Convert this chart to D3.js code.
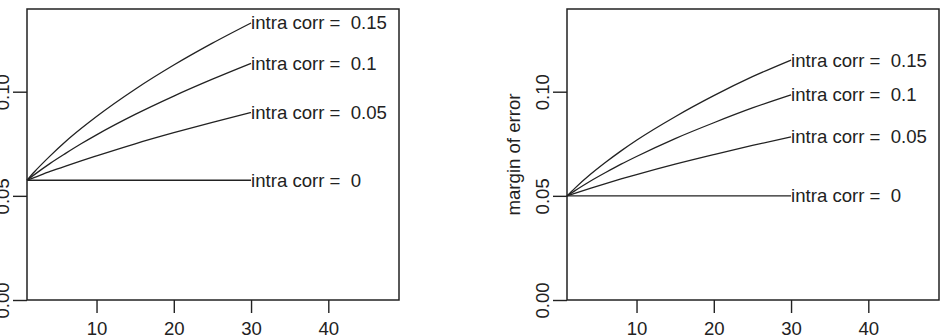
<!DOCTYPE html>
<html>
<head>
<meta charset="utf-8">
<script src="https://cdn.jsdelivr.net/npm/d3@7"></script>
<style>
  html, body { margin: 0; padding: 0; background: #fff; }
  svg { display: block; }
  text { font-family: "Liberation Sans", Arial, sans-serif; fill: #222; }
</style>
</head>
<body>
<svg id="chart" width="952" height="336"></svg>
<script>
// ---- data ----
const clusterSizes = [1, 2, 4, 6, 8, 10, 15, 20, 25, 30];
const intraCorrs = ["0.15", "0.1", "0.05", "0"];

// left panel: margin of error by cluster size
const leftCorr015 = [0.0575, 0.0617, 0.0692, 0.0761, 0.0823, 0.0881, 0.1012, 0.1128, 0.1233, 0.1330];
const leftCorr010 = [0.0575, 0.0603, 0.0656, 0.0704, 0.0750, 0.0793, 0.0891, 0.0979, 0.1060, 0.1136];
const leftCorr005 = [0.0575, 0.0589, 0.0617, 0.0643, 0.0668, 0.0692, 0.0750, 0.0803, 0.0853, 0.0900];
const leftCorr000 = [0.0575, 0.0575, 0.0575, 0.0575, 0.0575, 0.0575, 0.0575, 0.0575, 0.0575, 0.0575];

// right panel: margin of error by cluster size
const rightCorr015 = [0.0500, 0.0536, 0.0602, 0.0661, 0.0716, 0.0767, 0.0880, 0.0981, 0.1072, 0.1152];
const rightCorr010 = [0.0500, 0.0524, 0.0570, 0.0612, 0.0652, 0.0689, 0.0775, 0.0851, 0.0922, 0.0985];
const rightCorr005 = [0.0500, 0.0512, 0.0536, 0.0559, 0.0581, 0.0602, 0.0652, 0.0698, 0.0742, 0.0783];
const rightCorr000 = [0.0500, 0.0500, 0.0500, 0.0500, 0.0500, 0.0500, 0.0500, 0.0500, 0.0500, 0.0500];

const xTicks = [10, 20, 30, 40];
const yTicks = [0.00, 0.05, 0.10];
const yTickLabels = ["0.00", "0.05", "0.10"];
const yLabel = "margin of error";

// ---- drawing ----
const svg = d3.select("#chart");
const ink = "#222";
const fontSize = 18.6;

function panel(offsetX, seriesList, showYLabel) {
  const g = svg.append("g").attr("transform", `translate(${offsetX},0)`);
  const x = d3.scaleLinear().domain([1, 49.15]).range([27, 399]);
  const y = d3.scaleLinear().domain([0, 0.1397]).range([300, 9]);

  // x axis
  const xAxis = d3.axisBottom(x).tickValues(xTicks).tickSize(13).tickPadding(0).tickFormat(d3.format("d"));
  const gx = g.append("g").attr("transform", "translate(0,300)").call(xAxis);
  gx.select(".domain").remove();
  gx.selectAll(".tick line").attr("stroke", ink).attr("stroke-width", 1.4);
  gx.selectAll(".tick text")
    .attr("y", 34.5).attr("dy", 0)
    .style("font-size", fontSize + "px")
    .style("font-family", '"Liberation Sans", Arial, sans-serif')
    .attr("fill", ink);

  // y axis
  const yAxis = d3.axisLeft(y).tickValues(yTicks).tickSize(14)
    .tickFormat((d, i) => yTickLabels[i]);
  const gy = g.append("g").attr("transform", "translate(27,0)").call(yAxis);
  gy.select(".domain").remove();
  gy.selectAll(".tick line").attr("stroke", ink).attr("stroke-width", 1.4);
  gy.selectAll(".tick text")
    .attr("x", 0).attr("y", 0).attr("dy", 0)
    .attr("text-anchor", "middle")
    .attr("transform", "translate(-18,0) rotate(-90)")
    .style("font-size", fontSize + "px")
    .style("font-family", '"Liberation Sans", Arial, sans-serif')
    .attr("fill", ink);

  if (showYLabel) {
    g.append("text")
      .attr("transform", `translate(-20,${(300 + 9) / 2}) rotate(-90)`)
      .attr("text-anchor", "middle")
      .style("font-size", fontSize + "px")
      .text(yLabel);
  }

  // box
  g.append("rect")
    .attr("x", x.range()[0]).attr("y", y.range()[1])
    .attr("width", x.range()[1] - x.range()[0])
    .attr("height", y.range()[0] - y.range()[1])
    .attr("fill", "none").attr("stroke", ink).attr("stroke-width", 1.5);

  const line = d3.line()
    .x((d, i) => x(clusterSizes[i]))
    .y(d => y(d))
    .curve(d3.curveMonotoneX);

  seriesList.forEach((vals, k) => {
    g.append("path")
      .attr("d", line(vals))
      .attr("fill", "none")
      .attr("stroke", ink)
      .attr("stroke-width", 1.3);
    const last = vals[vals.length - 1];
    g.append("text")
      .attr("x", x(clusterSizes[clusterSizes.length - 1]))
      .attr("y", y(last))
      .attr("dy", "0.35em")
      .attr("xml:space", "preserve")
      .style("white-space", "pre")
      .style("font-size", fontSize + "px")
      .text("intra corr =  " + intraCorrs[k]);
  });
}

panel(0, [leftCorr015, leftCorr010, leftCorr005, leftCorr000], false);
panel(540, [rightCorr015, rightCorr010, rightCorr005, rightCorr000], true);
</script>
</body>
</html>
